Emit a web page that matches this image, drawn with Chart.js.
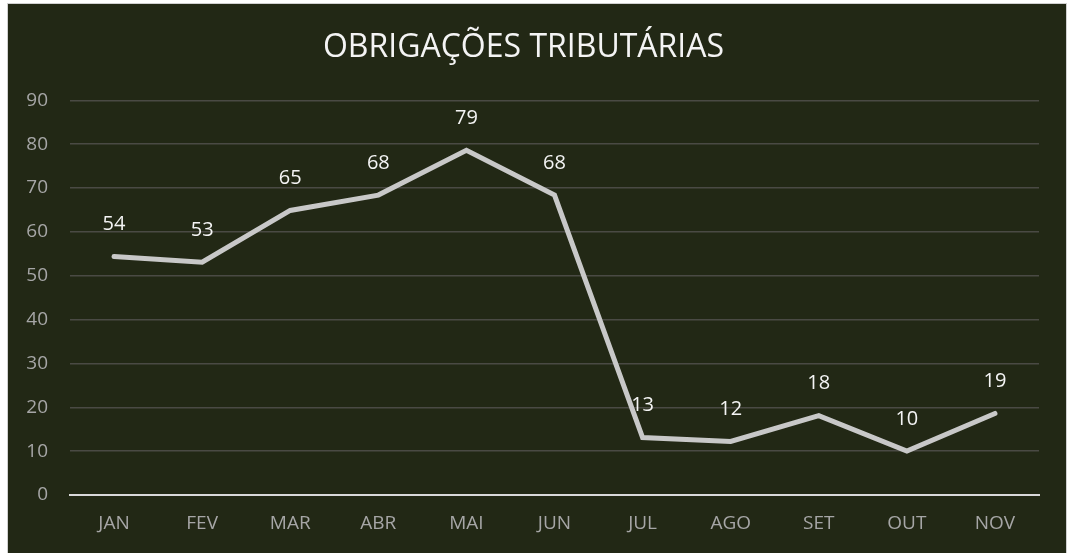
<!DOCTYPE html>
<html>
<head>
<meta charset="utf-8">
<script src="https://cdn.jsdelivr.net/npm/chart.js@4"></script>
<style>
  html, body { margin: 0; padding: 0; background: #ffffff; }
  #frame {
    position: absolute; left: 7px; top: 3px;
    width: 1058px; height: 549px;
    border: 1px solid #d0d0d0; border-bottom: none;
    background: #222815;
  }
</style>
</head>
<body>
<div id="frame"><canvas id="myChart" width="1058" height="549"></canvas></div>
<script>
const meses = ["JAN", "FEV", "MAR", "ABR", "MAI", "JUN", "JUL", "AGO", "SET", "OUT", "NOV"];
const obrigacoes = [54.4, 53.1, 64.9, 68.4, 78.6, 68.4, 13.1, 12.2, 18.1, 10.0, 18.6];
const rotulos = [54, 53, 65, 68, 79, 68, 13, 12, 18, 10, 19];

const fonte = "'Open Sans', 'DejaVu Sans', sans-serif";

// desenha os valores acima de cada ponto
const rotulosPlugin = {
  id: "rotulos",
  afterDatasetsDraw(chart) {
    const ctx = chart.ctx;
    const meta = chart.getDatasetMeta(0);
    ctx.save();
    ctx.font = "20px " + fonte;
    ctx.fillStyle = "#f4f4f4";
    ctx.textAlign = "center";
    ctx.textBaseline = "middle";
    meta.data.forEach((pt, i) => {
      ctx.fillText(String(rotulos[i]), pt.x, pt.y - 32);
    });
    ctx.restore();
  }
};

const ctx = document.getElementById("myChart").getContext("2d");
const myChart = new Chart(ctx, {
  type: "line",
  data: {
    labels: meses,
    datasets: [
      {
        label: "Obrigações",
        data: obrigacoes,
        borderColor: "#c8c8c8",
        borderWidth: 5,
        borderCapStyle: "round",
        borderJoinStyle: "miter",
        pointRadius: 0,
        tension: 0,
        fill: false,
      }
    ],
  },
  options: {
    responsive: false,
    animation: false,
    layout: { padding: { left: 0, right: 27, top: 0, bottom: 0 } },
    plugins: {
      legend: { display: false },
      tooltip: { enabled: false },
      title: {
        display: true,
        text: "OBRIGAÇÕES TRIBUTÁRIAS",
        color: "#f4f4f4",
        font: { family: fonte, size: 32, weight: "normal" },
        padding: { top: 25, bottom: 33 },
      },
    },
    scales: {
      x: {
        offset: true,
        grid: { display: false, drawTicks: false, offset: true },
        border: { color: "#d9d9d9", width: 2 },
        ticks: {
          color: "#a6a6a6",
          font: { family: fonte, size: 19 },
          padding: 17,
        },
        afterFit: (scale) => { scale.height = 58; },
      },
      y: {
        min: 0,
        max: 90,
        ticks: {
          stepSize: 10,
          color: "#a6a6a6",
          font: { family: fonte, size: 19 },
          padding: 22,
        },
        grid: {
          drawTicks: false,
          color: "#4a4a44",
          lineWidth: 1.5,
        },
        border: { display: false },
        afterFit: (scale) => { scale.width = 62; },
      },
    },
  },
  plugins: [rotulosPlugin],
});
</script>
</body>
</html>
